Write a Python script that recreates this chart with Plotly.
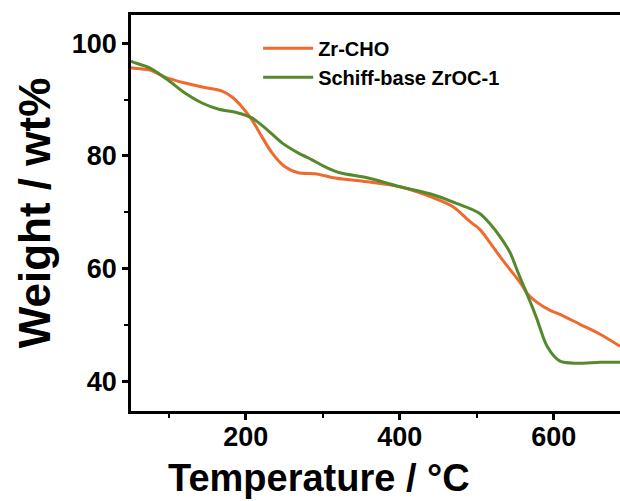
import plotly.graph_objects as go

# Zr-CHO (orange)
t_cho = [51, 53.6, 75.7, 95.2, 121.1, 143.2, 169.2, 182.2, 195.2, 208.1, 221.1, 234.1, 251.0,
         267.9, 290.0, 303.0, 313.3, 357.5, 400.3, 443.2, 469.2, 491.3, 504.2, 517.2, 530.2,
         543.2, 556.2, 566.6, 578.3, 595.2, 608.1, 634.1, 660.1, 686.1]
w_cho = [95.6, 95.58, 95.22, 93.98, 92.92, 92.21, 91.50, 90.44, 88.67, 86.37, 83.36, 80.53, 78.05,
         76.99, 76.81, 76.46, 76.11, 75.40, 74.51, 72.57, 70.97, 68.32, 66.90, 64.6, 62.12,
         59.82, 57.52, 55.40, 53.98, 52.56, 51.86, 50.09, 48.32, 46.19]

# Schiff-base ZrOC-1 (green)
t_zroc = [51, 53.6, 75.7, 99.1, 121.1, 143.2, 164.0, 190.0, 208.1, 225.0, 247.1, 267.9, 286.1,
          303.0, 322.4, 357.5, 400.3, 443.2, 478.3, 491.3, 504.2, 517.2, 530.2, 543.2, 553.6,
          562.7, 571.8, 578.3, 591.3, 608.1, 630.2, 660.1, 686.1]
w_zroc = [96.8, 96.64, 95.58, 93.45, 91.15, 89.38, 88.32, 87.61, 86.73, 84.96, 82.30, 80.53, 79.29,
          78.05, 76.99, 76.11, 74.51, 73.10, 71.33, 70.62, 69.73, 67.96, 65.66, 62.83, 59.29,
          56.28, 53.27, 50.97, 46.19, 43.54, 43.18, 43.36, 43.36]

x_ticks = [200, 400, 600]
y_ticks = [40, 60, 80, 100]
x_minor = [100, 300, 500]
y_minor = [50, 70, 90]

FONT = "Arial, Liberation Sans, sans-serif"

fig = go.Figure()
fig.add_trace(go.Scatter(x=t_cho, y=w_cho, mode="lines", name="<b>Zr-CHO</b>",
                         line=dict(color="#EE6A2E", width=3, shape="spline", smoothing=0.8)))
fig.add_trace(go.Scatter(x=t_zroc, y=w_zroc, mode="lines", name="<b>Schiff-base ZrOC-1</b>",
                         line=dict(color="#55892B", width=3, shape="spline", smoothing=0.8)))

fig.add_annotation(text="<b>Temperature / °C</b>", xref="paper", yref="paper",
                   x=0.384, y=-0.11, xanchor="center", yanchor="top", showarrow=False,
                   font=dict(family=FONT, size=38, color="black"))

fig.update_layout(
    width=620, height=501,
    margin=dict(l=131, r=0, t=15, b=90),
    paper_bgcolor="white", plot_bgcolor="white",
    font=dict(family=FONT, color="black"),
    showlegend=True,
    legend=dict(x=0.26, y=0.965, xanchor="left", yanchor="top",
                font=dict(family=FONT, size=20, color="black"),
                bgcolor="rgba(0,0,0,0)", itemwidth=50, tracegroupgap=0),
    xaxis=dict(range=[51, 686], tickvals=x_ticks, ticktext=[f"<b>{v}</b>" for v in x_ticks],
               ticks="outside", ticklen=6, tickwidth=2.5, ticklabelstandoff=-6,
               tickcolor="black", showline=True, linewidth=2.5, linecolor="black", mirror=True,
               showgrid=False, zeroline=False,
               tickfont=dict(family=FONT, size=27, color="black"),
               minor=dict(tickvals=x_minor, ticks="outside", ticklen=4, tickwidth=2, tickcolor="black")),
    yaxis=dict(range=[34.7, 105], tickvals=y_ticks, ticktext=[f"<b>{v}</b>" for v in y_ticks],
               ticks="outside", ticklen=6, tickwidth=2.5,
               tickcolor="black", showline=True, linewidth=2.5, linecolor="black", mirror=False,
               showgrid=False, zeroline=False,
               tickfont=dict(family=FONT, size=27, color="black"),
               minor=dict(tickvals=y_minor, ticks="outside", ticklen=4, tickwidth=2, tickcolor="black"),
               title=dict(text="<b>Weight / wt%</b>", standoff=8,
                          font=dict(family=FONT, size=44, color="black"))),
)

fig.write_html("out.html")
